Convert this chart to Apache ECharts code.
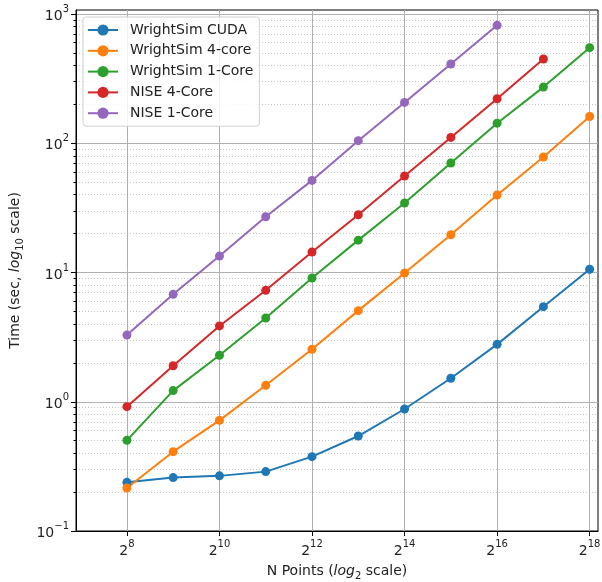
<!DOCTYPE html>
<html>
<head>
<meta charset="utf-8">
<script src="https://cdn.jsdelivr.net/npm/echarts@6/dist/echarts.min.js"></script>
<style>
  html, body { margin: 0; padding: 0; background: #fff; }
  #chart { width: 602px; height: 582px; }
</style>
</head>
<body>
<div id="chart"></div>
<script>
// x values are log2(N points)
var nExp = [8, 9, 10, 11, 12, 13, 14, 15, 16, 17, 18];
var xTicks = [8, 10, 12, 14, 16, 18];
var yTicks = [0.1, 1, 10, 100, 1000];
var yMinor = [0.2, 0.3, 0.4, 0.5, 0.6, 0.7, 0.8, 0.9,
              2, 3, 4, 5, 6, 7, 8, 9,
              20, 30, 40, 50, 60, 70, 80, 90,
              200, 300, 400, 500, 600, 700, 800, 900];

var seriesNames = ['WrightSim CUDA', 'WrightSim 4-core', 'WrightSim 1-Core', 'NISE 4-Core', 'NISE 1-Core'];
var wsCuda  = [0.238, 0.259, 0.267, 0.288, 0.376, 0.543, 0.879, 1.52, 2.78, 5.44, 10.6];
var ws4core = [0.215, 0.411, 0.718, 1.34, 2.55, 5.07, 9.91, 19.6, 39.8, 78.3, 161];
var ws1core = [0.503, 1.22, 2.29, 4.45, 9.06, 17.8, 34.5, 70.3, 143, 272, 549];
var nise4   = [0.916, 1.90, 3.86, 7.28, 14.4, 28.0, 55.8, 111, 221, 449];
var nise1   = [3.28, 6.78, 13.4, 27.0, 51.6, 104.7, 207, 410, 817];

var colors = ['#1f77b4', '#ff7f0e', '#2ca02c', '#d62728', '#9467bd'];
var font = 'DejaVu Sans';
var txt = '#222';

const pairs = (vals) => vals.map((v, i) => [nExp[i], v])

const sup = {
  b: { fontSize: 14, fontFamily: font, color: txt, lineHeight: 19, verticalAlign: 'bottom' },
  s: { fontSize: 10, fontFamily: font, color: txt, lineHeight: 12, verticalAlign: 'top' }
}
const nameRich = {
  n: { fontSize: 14, fontFamily: font, color: txt, lineHeight: 17, verticalAlign: 'top' },
  i: { fontSize: 14, fontFamily: font, color: txt, lineHeight: 17, verticalAlign: 'top', fontStyle: 'italic' },
  sub: { fontSize: 10, fontFamily: font, color: txt, lineHeight: 8, verticalAlign: 'bottom' }
}

var option = {
  animation: false,
  color: colors,
  textStyle: { fontFamily: font },
  grid: {
    left: 76, right: 4, top: 10, bottom: 51,
    outerBoundsMode: 'none', containLabel: false,
    show: true, borderColor: '#000', borderWidth: 1
  },
  legend: {
    orient: 'vertical',
    left: 83, top: 17,
    padding: [6, 6, 6, 4],
    itemWidth: 30, itemHeight: 14, itemGap: 6.8,
    backgroundColor: 'rgba(255,255,255,0.85)',
    borderColor: '#d0d0d0', borderWidth: 1, borderRadius: 3,
    textStyle: { fontSize: 14, color: txt, fontFamily: font, padding: [0, 0, 0, 7] },
    data: seriesNames
  },
  xAxis: {
    type: 'value',
    min: 6.9, max: 18.18,
    name: '{n|N Points (}{i|log}{sub|2}{n| scale)}',
    nameLocation: 'middle', nameGap: 33,
    nameTextStyle: { rich: nameRich },
    axisLine: { show: true, lineStyle: { color: '#000', width: 1 } },
    axisTick: { show: true, customValues: xTicks, length: 5, lineStyle: { color: '#000' } },
    axisLabel: {
      customValues: xTicks, margin: 8,
      formatter: (v) => '{b|2}{s|' + v + '}',
      rich: sup
    },
    splitLine: { show: true, lineStyle: { color: '#b0b0b0', width: 1 } }
  },
  yAxis: [{
    type: 'log', logBase: 10,
    min: 0.1, max: 1074,
    name: '{n|Time (sec, }{i|log}{sub|10}{n| scale)}',
    nameLocation: 'middle', nameGap: 46,
    nameTextStyle: { rich: nameRich },
    axisLine: { show: true, lineStyle: { color: '#000', width: 1 } },
    axisTick: { show: true, customValues: yTicks, length: 5, lineStyle: { color: '#000' } },
    axisLabel: {
      customValues: yTicks, margin: 7,
      formatter: (v) => '{b|10}{s|' + String(Math.round(Math.log10(v))).replace('-', '\u2212') + '}',
      rich: sup
    },
    splitLine: { show: true, lineStyle: { color: '#b0b0b0', width: 1 } }
  }, {
    type: 'log', logBase: 10,
    min: 0.1, max: 1074,
    position: 'left',
    axisLine: { show: false },
    axisLabel: { show: false },
    axisTick: { show: true, customValues: yMinor, length: 2.5, lineStyle: { color: '#000' } },
    splitLine: { show: true, lineStyle: { color: '#c4c4c4', width: 1, type: [1, 2] } }
  }],
  series: [wsCuda, ws4core, ws1core, nise4, nise1].map((vals, k) => ({
    name: seriesNames[k],
    type: 'line',
    yAxisIndex: 0,
    data: pairs(vals),
    symbol: 'circle',
    symbolSize: 9,
    showSymbol: true,
    lineStyle: { width: 2 },
    itemStyle: { color: colors[k] },
    emphasis: { disabled: true }
  }))
};

var chart = echarts.init(document.getElementById('chart'));
chart.setOption(option);
</script>
</body>
</html>
